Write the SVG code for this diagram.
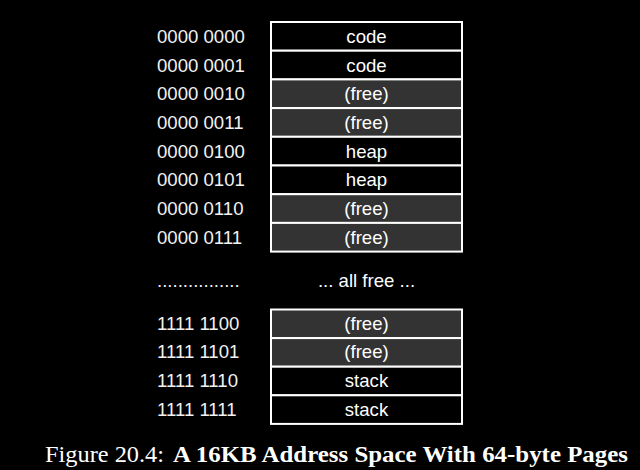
<svg xmlns="http://www.w3.org/2000/svg" width="640" height="470" viewBox="0 0 640 470">
  <style>
    .addr { font-family: "Liberation Sans", Arial, sans-serif; font-size: 18.6px; fill: #f2f2f2; }
    .lbl { font-family: "Liberation Sans", Arial, sans-serif; font-size: 18.6px; fill: #ffffff; text-anchor: middle; }
    .used { fill: #000000; stroke: #ffffff; stroke-width: 2; }
    .free { fill: #333333; stroke: #ffffff; stroke-width: 2; }
    .cap { font-family: "Liberation Serif", "Times New Roman", serif; font-size: 22.5px; fill: #ffffff; }
  </style>
  <rect width="640" height="470" fill="#000000"/>

  <!-- low pages -->
  <g id="page-00"><rect class="used" x="271" y="22" width="191" height="28.7"/><text class="lbl" x="366.5" y="43">code</text><text class="addr" x="157" y="43">0000 0000</text></g>
  <g id="page-01"><rect class="used" x="271" y="50.7" width="191" height="28.7"/><text class="lbl" x="366.5" y="72">code</text><text class="addr" x="157" y="72">0000 0001</text></g>
  <g id="page-02"><rect class="free" x="271" y="79.4" width="191" height="28.7"/><text class="lbl" x="366.5" y="100">(free)</text><text class="addr" x="157" y="100">0000 0010</text></g>
  <g id="page-03"><rect class="free" x="271" y="108.1" width="191" height="28.7"/><text class="lbl" x="366.5" y="129">(free)</text><text class="addr" x="157" y="129">0000 0011</text></g>
  <g id="page-04"><rect class="used" x="271" y="136.8" width="191" height="28.7"/><text class="lbl" x="366.5" y="158">heap</text><text class="addr" x="157" y="158">0000 0100</text></g>
  <g id="page-05"><rect class="used" x="271" y="165.5" width="191" height="28.7"/><text class="lbl" x="366.5" y="186">heap</text><text class="addr" x="157" y="186">0000 0101</text></g>
  <g id="page-06"><rect class="free" x="271" y="194.2" width="191" height="28.7"/><text class="lbl" x="366.5" y="215">(free)</text><text class="addr" x="157" y="215">0000 0110</text></g>
  <g id="page-07"><rect class="free" x="271" y="222.9" width="191" height="28.7"/><text class="lbl" x="366.5" y="244">(free)</text><text class="addr" x="157" y="244">0000 0111</text></g>

  <!-- gap between the low and high pages -->
  <g id="gap">
    <text class="addr" x="157" y="287">................</text>
    <text class="lbl" x="366.5" y="287">... all free ...</text>
  </g>

  <!-- high pages -->
  <g id="page-fc"><rect class="free" x="271" y="309.5" width="191" height="28.6"/><text class="lbl" x="366.5" y="330">(free)</text><text class="addr" x="157" y="330">1111 1100</text></g>
  <g id="page-fd"><rect class="free" x="271" y="338.1" width="191" height="28.6"/><text class="lbl" x="366.5" y="358">(free)</text><text class="addr" x="157" y="358">1111 1101</text></g>
  <g id="page-fe"><rect class="used" x="271" y="366.7" width="191" height="28.6"/><text class="lbl" x="366.5" y="387">stack</text><text class="addr" x="157" y="387">1111 1110</text></g>
  <g id="page-ff"><rect class="used" x="271" y="395.3" width="191" height="28.6"/><text class="lbl" x="366.5" y="416">stack</text><text class="addr" x="157" y="416">1111 1111</text></g>

  <!-- caption -->
  <text class="cap" x="45" y="462" textLength="119" lengthAdjust="spacingAndGlyphs">Figure 20.4:</text>
  <text class="cap" x="173" y="462" font-weight="bold" textLength="455" lengthAdjust="spacingAndGlyphs">A 16KB Address Space With 64-byte Pages</text>
</svg>
